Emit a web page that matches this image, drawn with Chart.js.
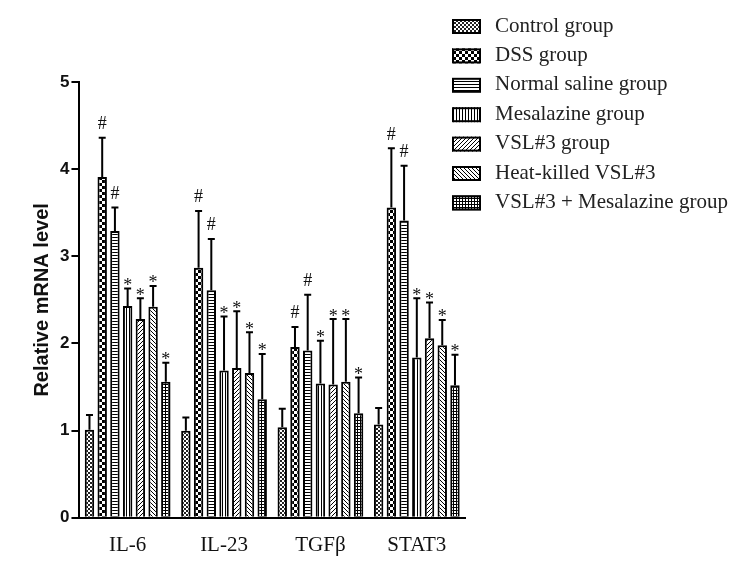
<!DOCTYPE html>
<html>
<head>
<meta charset="utf-8">
<script src="https://cdn.jsdelivr.net/npm/chart.js@4.4.0/dist/chart.umd.min.js"></script>
<style>
  html, body { margin: 0; padding: 0; background: #fff; }
  #wrap { width: 755px; height: 567px; }
</style>
</head>
<body>
<div id="wrap"><canvas id="chart" width="755" height="567"></canvas></div>
<script>
// ── data ──────────────────────────────────────
const genes = ['IL-6', 'IL-23', 'TGFβ', 'STAT3'];
const groupNames = ['Control group', 'DSS group', 'Normal saline group', 'Mesalazine group',
  'VSL#3 group', 'Heat-killed VSL#3', 'VSL#3 + Mesalazine group'];

const controlVals = [1.01, 1.00, 1.04, 1.07];
const dssVals     = [3.91, 2.87, 1.96, 3.56];
const salineVals  = [3.29, 2.61, 1.92, 3.41];
const mesVals     = [2.43, 1.69, 1.54, 1.84];
const vslVals     = [2.28, 1.72, 1.53, 2.06];
const heatVals    = [2.42, 1.66, 1.56, 1.98];
const comboVals   = [1.56, 1.36, 1.20, 1.52];

const controlErr = [0.17, 0.15, 0.21, 0.19];
const dssErr     = [0.45, 0.65, 0.23, 0.68];
const salineErr  = [0.27, 0.59, 0.64, 0.63];
const mesErr     = [0.20, 0.62, 0.49, 0.68];
const vslErr     = [0.24, 0.65, 0.75, 0.41];
const heatErr    = [0.24, 0.47, 0.72, 0.29];
const comboErr   = [0.22, 0.52, 0.41, 0.35];

const controlMarks = ['', '', '', ''];
const dssMarks     = ['#', '#', '#', '#'];
const salineMarks  = ['#', '#', '#', '#'];
const mesMarks     = ['*', '*', '*', '*'];
const vslMarks     = ['*', '*', '*', '*'];
const heatMarks    = ['*', '*', '*', '*'];
const comboMarks   = ['*', '*', '*', '*'];

const yTicks = [0, 1, 2, 3, 4, 5];

// ── fill patterns ─────────────────────────────
const mainCtx = document.getElementById('chart').getContext('2d');

function makePattern(size, draw) {
  const c = document.createElement('canvas');
  c.width = size; c.height = size;
  const g = c.getContext('2d');
  g.fillStyle = '#fff';
  g.fillRect(0, 0, size, size);
  g.fillStyle = '#000';
  draw(g, size);
  return mainCtx.createPattern(c, 'repeat');
}

const patterns = [
  makePattern(4, (g) => { g.fillStyle = '#222'; g.fillRect(0, 0, 2, 2); g.fillRect(2, 2, 2, 2); }),
  makePattern(6, (g) => { g.fillRect(0, 0, 3, 3); g.fillRect(3, 3, 3, 3); }),
  makePattern(3, (g) => { g.fillRect(0, 0, 3, 1); }),
  makePattern(3, (g) => { g.fillRect(0, 0, 1, 3); }),
  makePattern(4, (g) => { for (let i = 0; i < 4; i++) g.fillRect(3 - i, i, 1, 1); }),
  makePattern(4, (g) => { for (let i = 0; i < 4; i++) g.fillRect(i, i, 1, 1); }),
  makePattern(3, (g) => { g.fillRect(0, 0, 3, 1); g.fillRect(0, 0, 1, 3); })
];

const seriesVals  = [controlVals, dssVals, salineVals, mesVals, vslVals, heatVals, comboVals];
const seriesErr   = [controlErr, dssErr, salineErr, mesErr, vslErr, heatErr, comboErr];
const seriesMarks = [controlMarks, dssMarks, salineMarks, mesMarks, vslMarks, heatMarks, comboMarks];

// ── plugins ───────────────────────────────────
const errorBars = {
  id: 'errorBars',
  afterDatasetsDraw(chart) {
    const ctx = chart.ctx;
    const y = chart.scales.y;
    ctx.save();
    ctx.strokeStyle = '#000';
    ctx.lineWidth = 2;
    chart.data.datasets.forEach((ds, i) => {
      const meta = chart.getDatasetMeta(i);
      meta.data.forEach((bar, j) => {
        const top = y.getPixelForValue(ds.data[j] + ds.errors[j]);
        ctx.beginPath();
        ctx.moveTo(bar.x, bar.y);
        ctx.lineTo(bar.x, top);
        ctx.moveTo(bar.x - 3.5, top);
        ctx.lineTo(bar.x + 3.5, top);
        ctx.stroke();
        const mark = ds.marks[j];
        if (mark) {
          ctx.font = '18px "Liberation Serif", "Times New Roman", serif';
          ctx.fillStyle = '#111';
          ctx.textAlign = 'center';
          ctx.textBaseline = 'alphabetic';
          const m = ctx.measureText(mark);
          const centre = top - (mark === '#' ? 15 : 7);
          const base = centre + (m.actualBoundingBoxAscent - m.actualBoundingBoxDescent) / 2;
          ctx.fillText(mark, bar.x, base);
        }
      });
    });
    ctx.restore();
  }
};

const sideLegend = {
  id: 'sideLegend',
  afterDraw(chart) {
    const ctx = chart.ctx;
    ctx.save();
    ctx.font = '21px "Liberation Serif", "Times New Roman", serif';
    ctx.textBaseline = 'middle';
    ctx.textAlign = 'left';
    chart.data.datasets.forEach((ds, i) => {
      const cy = 26 + i * 29.4;
      ctx.fillStyle = ds.backgroundColor;
      ctx.fillRect(452, cy - 7, 29, 15);
      ctx.strokeStyle = '#000';
      ctx.lineWidth = 2;
      ctx.strokeRect(453, cy - 6, 27, 13);
      ctx.fillStyle = '#222';
      ctx.fillText(ds.label, 495, cy);
    });
    ctx.restore();
  }
};

// ── chart ─────────────────────────────────────
new Chart(mainCtx, {
  type: 'bar',
  data: {
    labels: genes,
    datasets: groupNames.map((name, i) => ({
      label: name,
      data: seriesVals[i],
      errors: seriesErr[i],
      marks: seriesMarks[i],
      backgroundColor: patterns[i],
      borderColor: '#000',
      borderWidth: 2,
      borderSkipped: 'bottom',
      categoryPercentage: 0.924,
      barPercentage: 0.74
    }))
  },
  options: {
    responsive: false,
    animation: false,
    layout: { padding: { top: 82, right: 290, bottom: -6, left: 26 } },
    plugins: {
      legend: { display: false },
      tooltip: { enabled: false }
    },
    scales: {
      x: {
        grid: { display: false, drawTicks: false },
        border: { color: '#000', width: 2 },
        ticks: {
          color: '#111',
          padding: 15,
          font: { family: "'Liberation Serif', 'Times New Roman', serif", size: 21 }
        }
      },
      y: {
        min: 0,
        max: 5,
        afterBuildTicks: (axis) => { axis.ticks = yTicks.map(v => ({ value: v })); },
        grid: { drawOnChartArea: false, drawTicks: true, tickLength: 8, color: '#000', lineWidth: 2 },
        border: { color: '#000', width: 2 },
        ticks: {
          color: '#111',
          padding: 2,
          font: { family: "'Liberation Sans', Arial, sans-serif", size: 17, weight: 'bold' }
        },
        title: {
          display: true,
          text: 'Relative mRNA level',
          color: '#111',
          padding: { top: 4, bottom: 4 },
          font: { family: "'Liberation Sans', Arial, sans-serif", size: 20, weight: 'bold' }
        }
      }
    }
  },
  plugins: [errorBars, sideLegend]
});
</script>
</body>
</html>
